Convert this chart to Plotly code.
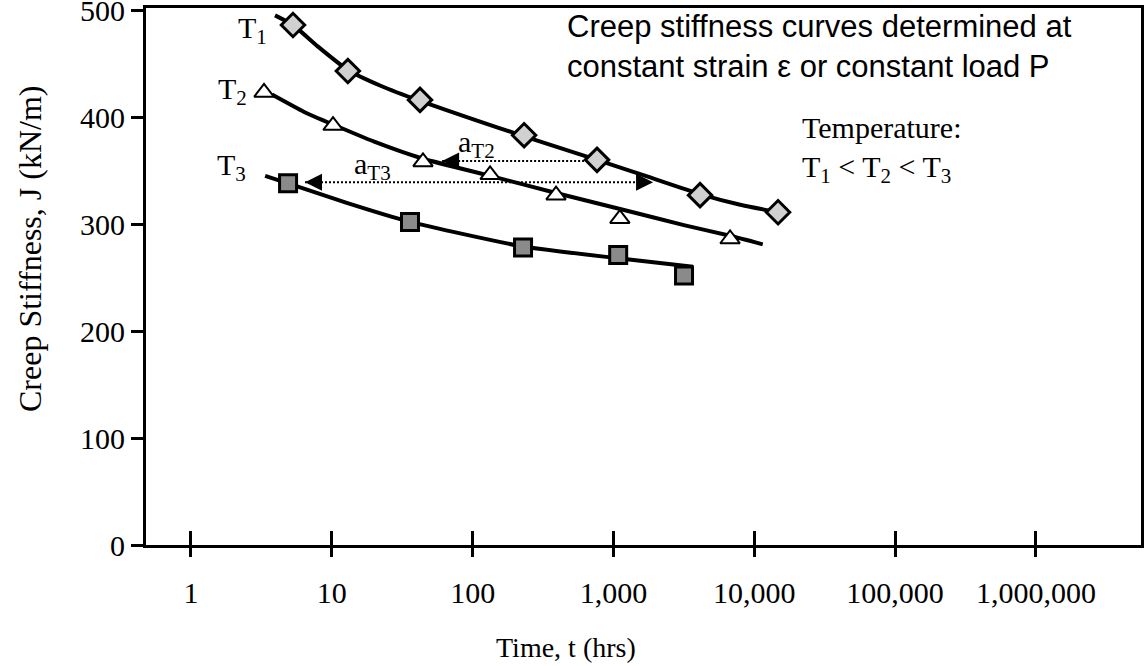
import math

import plotly.graph_objects as go

SERIF = "Liberation Serif"
SANS = "Liberation Sans"
BLACK = "#000000"
FILL_T1 = "#d0d0d0"
FILL_T3 = "#8a8a8a"

# measured points (time in hrs, stiffness in kN/m)
T1_X = [5.3, 13.0, 42.3, 232, 764, 4120, 14750]
T1_Y = [486, 443, 416, 383, 360, 327, 311]
T2_X = [3.3, 10.2, 44.4, 133, 391, 1110, 6730]
T2_Y = [423, 392, 358, 346, 327, 305, 286]
T3_X = [4.89, 35.9, 228, 1080, 3170]
T3_Y = [338, 302, 278, 271, 252]

# fitted curves
T1_FIT_X = [3.95, 5.3, 7.94, 13.0, 22.4, 42.3, 100, 232, 764, 1778, 4120, 7940, 14750]
T1_FIT_Y = [495, 486, 466, 444, 429, 415, 398, 382, 360, 344, 328, 318, 311]
T2_FIT_X = [3.76, 6.31, 10.2, 20.0, 44.5, 133, 391, 1114, 3162, 6730, 11480]
T2_FIT_Y = [421, 405, 393, 377, 361, 345, 329, 314, 299, 289, 281]
T3_FIT_X = [3.36, 4.89, 12.6, 35.9, 228, 1079, 3673]
T3_FIT_Y = [345, 338, 320, 302, 279, 268, 260]

# shift factors drawn as dotted arrows
AT2_X = [60.7, 764]
AT2_Y = [359, 359]
AT3_X = [6.45, 1910]
AT3_Y = [339, 339]

X_TICKS = [1, 10, 100, 1000, 10000, 100000, 1000000]
X_LABELS = ["1", "10", "100", "1,000", "10,000", "100,000", "1,000,000"]
Y_TICKS = [0, 100, 200, 300, 400, 500]

X_RANGE = [-0.3195, 6.746]
Y_RANGE = [0, 501.9]

fig = go.Figure()

for fx, fy in [(T1_FIT_X, T1_FIT_Y), (T2_FIT_X, T2_FIT_Y), (T3_FIT_X, T3_FIT_Y)]:
    fig.add_trace(go.Scatter(
        x=fx, y=fy, mode="lines",
        line=dict(color=BLACK, width=4, shape="spline", smoothing=0.5),
        hoverinfo="skip",
    ))

for ax_, ay_ in [(AT2_X, AT2_Y), (AT3_X, AT3_Y)]:
    fig.add_trace(go.Scatter(
        x=ax_, y=ay_, mode="lines",
        line=dict(color=BLACK, width=2, dash="2px,2px"),
        hoverinfo="skip",
    ))

fig.add_trace(go.Scatter(
    x=T1_X, y=T1_Y, mode="markers", name="T1",
    marker=dict(symbol="diamond", size=18, color=FILL_T1,
                line=dict(color=BLACK, width=3)),
))
fig.add_trace(go.Scatter(
    x=T2_X, y=T2_Y, mode="markers", name="T2",
    marker=dict(symbol="triangle-up", size=17, color="white",
                line=dict(color=BLACK, width=2)),
))
fig.add_trace(go.Scatter(
    x=T3_X, y=T3_Y, mode="markers", name="T3",
    marker=dict(symbol="square", size=17, color=FILL_T3,
                line=dict(color=BLACK, width=3)),
))

# invisible trace to carry the crossing (inside) part of the x ticks
fig.add_trace(go.Scatter(x=[1], y=[0], xaxis="x2", mode="markers",
                         marker=dict(opacity=0), hoverinfo="skip"))

fig.update_layout(
    width=1144, height=666,
    margin=dict(l=146, r=3, t=8, b=121),
    paper_bgcolor="white", plot_bgcolor="white",
    showlegend=False,
    font=dict(family=SERIF, size=30, color=BLACK),
    xaxis=dict(
        type="log", range=X_RANGE, automargin=False,
        tickvals=X_TICKS, ticktext=X_LABELS,
        ticks="outside", ticklen=9, tickwidth=3, tickcolor=BLACK,
        ticklabelstandoff=10,
        showgrid=False, zeroline=False,
        showline=True, linewidth=3, linecolor=BLACK, mirror=True,
        tickfont=dict(family=SERIF, size=30),
    ),
    xaxis2=dict(
        type="log", range=X_RANGE, overlaying="x", anchor="y", side="bottom",
        tickvals=X_TICKS, showticklabels=False, automargin=False,
        ticks="inside", ticklen=14, tickwidth=3, tickcolor=BLACK,
        showgrid=False, zeroline=False, showline=False,
    ),
    yaxis=dict(
        range=Y_RANGE, tickvals=Y_TICKS, automargin=False,
        ticks="outside", ticklen=12, tickwidth=3, tickcolor=BLACK,
        ticklabeloverflow="allow",
        showgrid=False, zeroline=False,
        showline=True, linewidth=3, linecolor=BLACK, mirror=True,
        tickfont=dict(family=SERIF, size=30),
    ),
)


# convert window pixel positions to paper coordinates
def px_x(p):
    return (p - 146) / 995


def px_y(p):
    return (545 - p) / 537


notes = [
    ("T<sub>1</sub>", 252, 30),
    ("T<sub>2</sub>", 232, 91),
    ("T<sub>3</sub>", 231, 167),
    ("a<sub>T2</sub>", 476, 144),
    ("a<sub>T3</sub>", 372, 166),
]
for txt, x, y in notes:
    fig.add_annotation(text=txt, xref="paper", yref="paper",
                       x=px_x(x), y=px_y(y), showarrow=False,
                       xanchor="center", yanchor="middle",
                       font=dict(family=SERIF, size=30))

fig.add_annotation(
    text="Creep stiffness curves determined at<br>constant strain \u03b5 or constant load P",
    xref="paper", yref="paper", x=px_x(565), y=px_y(7),
    xanchor="left", yanchor="top", align="left", showarrow=False,
    font=dict(family=SANS, size=31),
)
fig.add_annotation(
    text="Temperature:<br>T<sub>1</sub> &lt; T<sub>2</sub> &lt; T<sub>3</sub>",
    xref="paper", yref="paper", x=px_x(800), y=px_y(109),
    xanchor="left", yanchor="top", align="left", showarrow=False,
    font=dict(family=SERIF, size=30),
)
fig.add_annotation(
    text="Time, t (hrs)", xref="paper", yref="paper",
    x=px_x(566), y=px_y(647), xanchor="center", yanchor="middle",
    showarrow=False, font=dict(family=SERIF, size=28),
)
fig.add_annotation(
    text="Creep Stiffness, J (kN/m)", xref="paper", yref="paper",
    x=px_x(30), y=px_y(249), textangle=-90,
    xanchor="center", yanchor="middle",
    showarrow=False, font=dict(family=SERIF, size=32),
)

# arrowheads of the shift-factor arrows
heads = [(AT2_X[0], AT2_Y[0], 16), (AT3_X[0], AT3_Y[0], 16), (AT3_X[1], AT3_Y[1], -16)]
for hx, hy, off in heads:
    fig.add_annotation(x=math.log10(hx), y=hy, xref="x", yref="y",
                       ax=off, ay=0, text="", showarrow=True,
                       arrowhead=2, arrowsize=1.7, arrowwidth=2,
                       arrowcolor=BLACK)

# drop the browser's default 8px body margin so the figure fills the window
fig.write_html("out.html", config={"displayModeBar": False},
               post_script="document.body.style.margin = '0px';")
